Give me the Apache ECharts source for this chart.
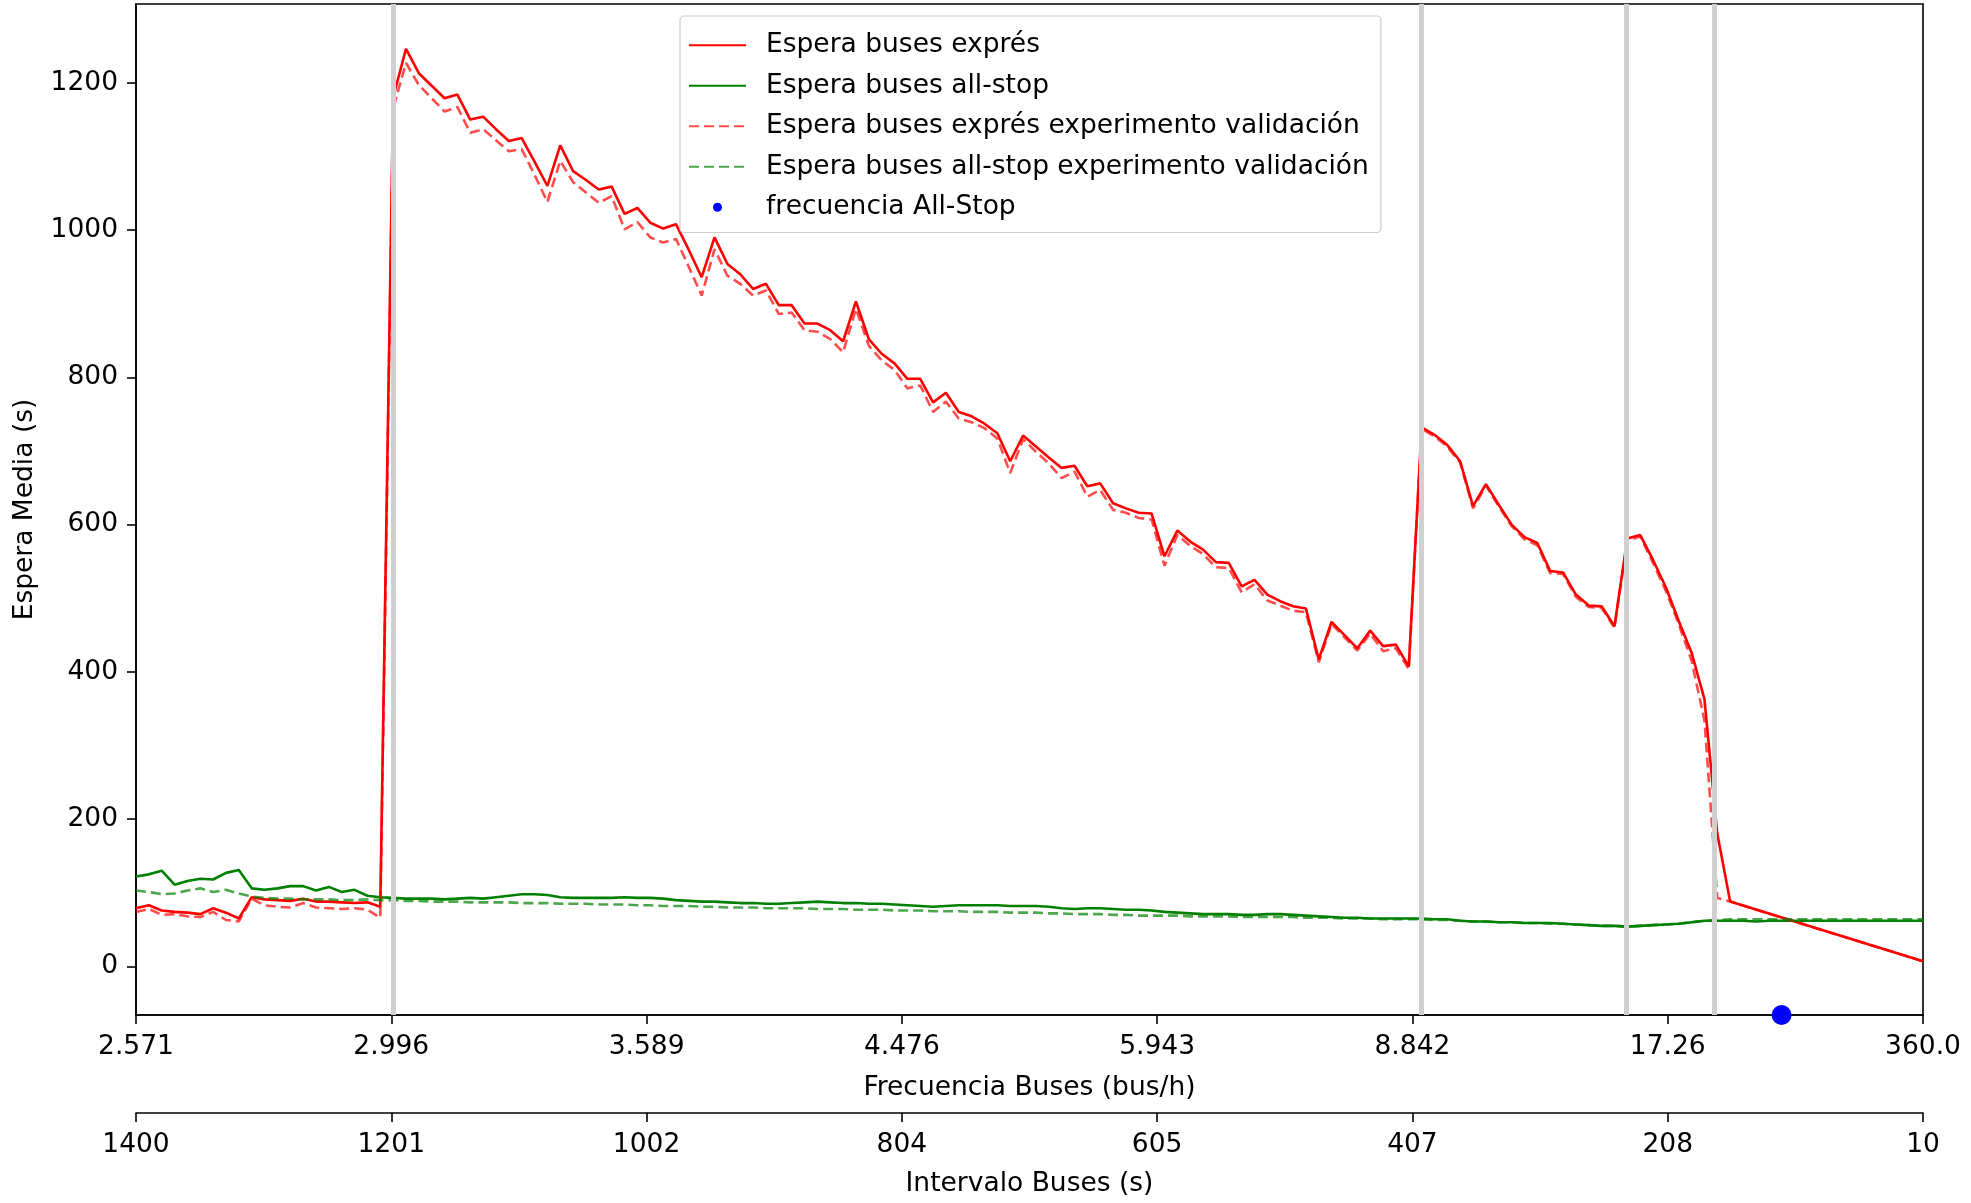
<!DOCTYPE html>
<html>
<head>
<meta charset="utf-8">
<title>Espera media de buses exprés y all-stop</title>
<script src="https://cdn.jsdelivr.net/npm/echarts@6.0.0/dist/echarts.min.js"></script>
<style>
  html, body { margin: 0; padding: 0; background: #fff; }
  #chart { width: 1971px; height: 1203px; }
</style>
</head>
<body>
<div id="chart"></div>
<script>
// Intervalo entre buses (s) de cada simulación
const intervals = [
  1400,1390,1380,1370,1360,1350,1340,1330,1320,1310,
  1300,1290,1280,1270,1260,1250,1240,1230,1220,1210,
  1200,1190,1180,1170,1160,1150,1140,1130,1120,1110,
  1100,1090,1080,1070,1060,1050,1040,1030,1020,1010,
  1000,990,980,970,960,950,940,930,920,910,
  900,890,880,870,860,850,840,830,820,810,
  800,790,780,770,760,750,740,730,720,710,
  700,690,680,670,660,650,640,630,620,610,
  600,590,580,570,560,550,540,530,520,510,
  500,490,480,470,460,450,440,430,420,410,
  400,390,380,370,360,350,340,330,320,310,
  300,290,280,270,260,250,240,230,220,210,
  200,190,180,170,160,150,140,130,120,110,
  100,90,80,70,60,50,40,30,20,10
];

// Espera media (s) de los buses exprés
const expressWait = [
  79,83,76,74,73,71,79,73,65,94,
  91,90,89,92,88,88,87,86,87,81,
  1180,1246,1213,1196,1179,1184,1150,1154,1137,1121,
  1125,1093,1060,1115,1080,1068,1055,1059,1022,1030,
  1010,1002,1008,973,936,990,954,940,920,927,
  898,898,873,873,864,849,903,852,832,819,
  798,798,766,779,753,747,737,724,686,721,
  706,691,677,680,652,656,629,622,616,615,
  557,592,577,566,549,548,516,525,505,496,
  489,486,417,468,450,432,456,435,437,407,
  732,722,708,686,625,655,627,600,583,575,
  537,535,505,490,489,462,581,586,552,515,
  469,426,363,180,88,null,null,null,null,null,
  null,null,null,null,null,null,null,null,null,7
];

// Espera media (s) de los buses all-stop
const allStopWait = [
  122,125,130,111,116,119,118,127,131,106,
  104,106,109,109,103,108,101,104,96,94,
  93,92,92,92,91,92,93,92,94,96,
  98,98,97,94,93,93,93,93,94,93,
  93,92,90,89,88,88,87,86,86,85,
  85,86,87,88,87,86,86,85,85,84,
  83,82,81,82,83,83,83,83,82,82,
  82,81,79,78,79,79,78,77,77,76,
  74,73,72,71,71,71,70,70,71,71,
  70,69,68,67,66,66,65,65,65,65,
  65,64,64,62,61,61,60,60,59,59,
  59,58,57,56,55,55,54,55,56,57,
  58,60,62,62,62,62,61,62,62,62,
  62,62,62,62,62,62,62,62,62,62
];

// Experimento de validación: exprés
const expressWaitValidation = [
  74,78,70,71,68,67,74,63,61,92,
  83,81,80,86,80,79,78,79,77,66,
  1165,1227,1197,1179,1161,1167,1132,1137,1122,1107,
  1110,1075,1038,1094,1065,1051,1037,1046,1001,1011,
  990,983,988,950,911,974,938,927,911,918,
  886,888,864,862,852,834,893,843,823,810,
  785,789,753,767,744,739,731,717,670,716,
  699,683,663,672,638,647,620,616,609,607,
  544,586,571,560,542,541,508,519,497,490,
  483,481,413,465,447,429,452,428,432,404,
  730,720,706,684,622,653,625,598,580,572,
  534,533,502,488,487,460,578,584,548,510,
  465,415,334,93,88,null,null,null,null,null,
  null,null,null,null,null,null,null,null,null,7
];

// Experimento de validación: all-stop
const allStopWaitValidation = [
  103,101,98,99,103,106,101,104,99,95,
  93,92,92,91,91,91,90,90,91,90,
  90,89,89,88,88,88,87,87,87,87,
  86,86,86,85,85,85,84,84,84,83,
  83,82,82,82,81,81,80,80,80,79,
  79,79,79,78,78,78,77,77,77,76,
  76,76,75,75,75,74,74,74,73,73,
  73,72,72,71,71,71,70,70,69,69,
  69,69,68,68,68,68,67,67,67,67,
  67,66,66,66,65,65,65,64,64,64,
  64,63,63,62,61,61,60,60,59,59,
  58,58,57,56,55,55,54,55,56,57,
  58,60,62,63,64,64,64,64,64,64,
  64,64,64,64,64,64,64,64,64,64
];

// Intervalo óptimo de los buses all-stop (marcado sobre el eje)
const allStopFrequencyPoint = [[120, -66]];

// Intervalos (s) donde cambia el régimen
const regimeIntervals = [1200, 400, 241, 172.5];

// Etiquetas de los dos ejes inferiores
const freqTickLabels = ['2.571', '2.996', '3.589', '4.476', '5.943', '8.842', '17.26', '360.0'];
const intervalTickLabels = ['1400', '1201', '1002', '804', '605', '407', '208', '10'];
const yTickValues = [0, 200, 400, 600, 800, 1000, 1200];

const X_MIN = 10, X_MAX = 1400;
const Y_MIN = -66, Y_MAX = 1307;

// Ticks repartidos uniformemente en el intervalo [X_MIN, X_MAX]
const xTickValues = freqTickLabels.map((_, k) =>
  X_MAX - k * (X_MAX - X_MIN) / (freqTickLabels.length - 1));

function tickLabel(list) {
  return function (v) {
    const k = xTickValues.findIndex(t => Math.abs(t - v) < 1e-3);
    return k >= 0 ? list[k] : '';
  };
}

const FONT = 'DejaVu Sans';
const FS = 26.5;
const black = { color: '#000', width: 1.6 };

function pairs(values) {
  return intervals.map((x, i) => [x, values[i]]);
}

function bottomAxis(name, labels, offset, nameGap) {
  return {
    type: 'value',
    min: X_MIN,
    max: X_MAX,
    inverse: true,
    position: 'bottom',
    offset: offset,
    name: name,
    nameLocation: 'middle',
    nameGap: nameGap,
    nameTextStyle: { fontFamily: FONT, fontSize: FS, color: '#000' },
    splitLine: { show: false },
    axisLine: { show: true, onZero: false, lineStyle: black },
    axisTick: { show: true, length: 9, lineStyle: black, customValues: xTickValues },
    axisLabel: {
      customValues: xTickValues,
      formatter: tickLabel(labels),
      fontFamily: FONT, fontSize: FS, color: '#000', margin: 19
    }
  };
}

const NAMES = [
  'Espera buses exprés',
  'Espera buses all-stop',
  'Espera buses exprés experimento validación',
  'Espera buses all-stop experimento validación',
  'frecuencia All-Stop'
];

// Las entradas de línea muestran sólo el trazo, sin marcador
const lineEntry = name => ({ name: name, itemStyle: { opacity: 0 } });

const option = {
  animation: false,
  backgroundColor: '#fff',
  grid: {
    left: 136, right: 48, top: 4, bottom: 184,
    show: true, borderColor: '#000', borderWidth: 1.6, backgroundColor: 'transparent'
  },
  legend: {
    orient: 'vertical',
    left: 680,
    top: 16,
    padding: [14, 12, 10, 8],
    itemWidth: 57,
    itemHeight: 9,
    itemGap: 10,
    selectedMode: false,
    backgroundColor: 'rgba(255,255,255,0.8)',
    borderColor: '#cccccc',
    borderWidth: 1.2,
    borderRadius: 4,
    textStyle: { fontFamily: FONT, fontSize: FS, color: '#000', lineHeight: 30.5, padding: [0, 0, 0, 15] },
    data: [
      lineEntry(NAMES[0]), lineEntry(NAMES[1]), lineEntry(NAMES[2]), lineEntry(NAMES[3]),
      { name: NAMES[4], icon: 'circle' }
    ]
  },
  xAxis: [
    bottomAxis('Frecuencia Buses (bus/h)', freqTickLabels, 0, 60),
    bottomAxis('Intervalo Buses (s)', intervalTickLabels, 98, 58)
  ],
  yAxis: {
    type: 'value',
    min: Y_MIN,
    max: Y_MAX,
    name: 'Espera Media (s)',
    nameLocation: 'middle',
    nameGap: 97,
    nameTextStyle: { fontFamily: FONT, fontSize: FS, color: '#000' },
    splitLine: { show: false },
    axisLine: { show: true, onZero: false, lineStyle: black },
    axisTick: { show: true, length: 9, lineStyle: black, customValues: yTickValues },
    axisLabel: {
      customValues: yTickValues,
      formatter: v => String(v),
      fontFamily: FONT, fontSize: FS, color: '#000', margin: 18
    }
  },
  series: [
    {
      type: 'line',
      data: [],
      silent: true,
      z: 1,
      markLine: {
        silent: true,
        symbol: ['none', 'none'],
        label: { show: false },
        lineStyle: { color: '#d0d0d0', width: 5, type: 'solid' },
        data: regimeIntervals.map(v => ({ xAxis: v }))
      }
    },
    {
      name: NAMES[0], type: 'line', data: pairs(expressWait), symbol: 'none',
      connectNulls: true, z: 3,
      lineStyle: { color: 'red', width: 2.6 }, itemStyle: { color: 'red' }
    },
    {
      name: NAMES[1], type: 'line', data: pairs(allStopWait), symbol: 'none',
      connectNulls: true, z: 3,
      lineStyle: { color: 'green', width: 2.6 }, itemStyle: { color: 'green' }
    },
    {
      name: NAMES[2], type: 'line', data: pairs(expressWaitValidation), symbol: 'none',
      connectNulls: true, z: 4,
      lineStyle: { color: 'red', width: 2.6, type: [10, 5], opacity: 0.7 },
      itemStyle: { color: 'red' }
    },
    {
      name: NAMES[3], type: 'line', data: pairs(allStopWaitValidation), symbol: 'none',
      connectNulls: true, z: 4,
      lineStyle: { color: 'green', width: 2.6, type: [10, 5], opacity: 0.7 },
      itemStyle: { color: 'green' }
    },
    {
      name: NAMES[4], type: 'scatter', data: allStopFrequencyPoint,
      symbolSize: 20, clip: false, z: 6,
      itemStyle: { color: 'blue', opacity: 1 }
    }
  ]
};

const chart = echarts.init(document.getElementById('chart'), null, { renderer: 'canvas' });
chart.setOption(option);
</script>
</body>
</html>
